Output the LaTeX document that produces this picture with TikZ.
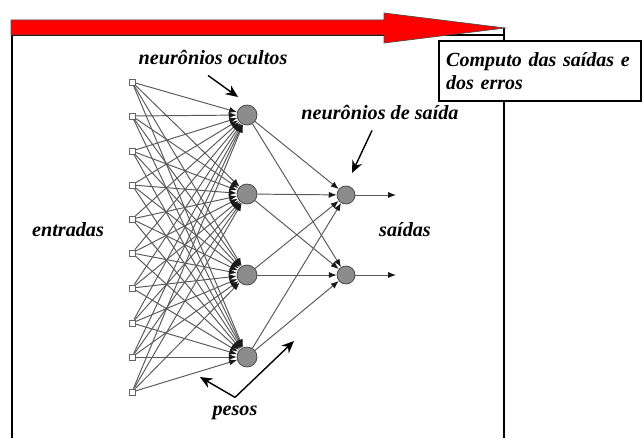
\documentclass[tikz,border=0pt]{standalone}
\usepackage{fontspec}
\setmainfont{Liberation Serif}
\usetikzlibrary{arrows.meta}

\begin{document}
\begin{tikzpicture}[x=0.02cm,y=-0.02cm,
  rotulo/.style={font=\fontsize{11.5}{13.5}\selectfont\bfseries\itshape},
  entrada/.style={draw=black!60,fill=white,inner sep=0pt,minimum size=3.5pt},
  oculto/.style={circle,draw=black!75,fill=black!45,inner sep=0pt,minimum size=0.4cm},
  saida/.style={circle,draw=black!75,fill=black!45,inner sep=0pt,minimum size=0.36cm},
  peso/.style={draw=black!65,line width=0.55pt,-{Latex[length=4.5pt,width=3.5pt,color=black!90]}},
  seta/.style={line width=0.8pt,-{Stealth[length=7pt,width=6pt]}},
  moldura/.style={line width=1.3pt},
  caixa/.style={draw,line width=1.3pt,fill=white,anchor=north west,inner xsep=0.14cm,inner ysep=0pt,
    minimum height=1.2cm,text width=3.76cm,align=left,
    font=\fontsize{11.4}{12.8}\selectfont\bfseries\itshape}]
\path (0,0) rectangle (644,438);
% moldura e seta vermelha
\draw[moldura] (12,438) -- (12,35) -- (504,35);
\draw[moldura] (504,28) -- (504,438);
\filldraw[fill=red,draw=black!70,line width=0.4pt] (11,20) -- (384,20) -- (384,13) -- (505,28)
  -- (384,43) -- (384,35) -- (11,35) -- cycle;
\node[caixa] (comp) at (438,40) {Computo das saídas e\\dos erros};
% neuronios
\foreach \i/\y in {1/82,2/116,3/151,4/185,5/219,6/253,7/288,8/323,9/357,10/392}
  \node[entrada] (e\i) at (132,\y) {};
\foreach \j/\y in {1/115,2/194,3/275,4/357}
  \node[oculto] (h\j) at (247,\y) {};
\foreach \k/\y in {1/195,2/275} {
  \node[saida] (o\k) at (346,\y) {};
  \coordinate (s\k) at (396,\y);
}
% pesos
\foreach \i in {1,...,10}
  \foreach \j in {1,...,4}
    \draw[peso] (e\i) -- (h\j);
\foreach \j in {1,...,4}
  \foreach \k in {1,2}
    \draw[peso] (h\j) -- (o\k);
\foreach \k in {1,2}
  \draw[peso] (o\k) -- (s\k);
% rotulos
\node[rotulo] (lboc) at (213,57) {neurônios ocultos};
\node[rotulo] (lbsd) at (380,112) {neurônios de saída};
\node[rotulo] (lbps) at (235,413) {pesos};
\node[rotulo] (lben) at (68,230) {entradas};
\node[rotulo] (lbsa) at (405,230) {saídas};
\coordinate (aoc) at (238,97);
\coordinate (asd) at (352,173);
\coordinate (ap1) at (200,377);
\coordinate (ap2) at (294,341);
\draw[seta] ([xshift=-0.1cm,yshift=-0.1cm]lboc.south) -- (aoc);
\draw[seta] ([xshift=-0.16cm,yshift=-0.1cm]lbsd.south) -- (asd);
\draw[seta] ([yshift=0.05cm]lbps.north) -- (ap1);
\draw[seta] ([yshift=0.05cm]lbps.north) -- (ap2);
\end{tikzpicture}
\end{document}
